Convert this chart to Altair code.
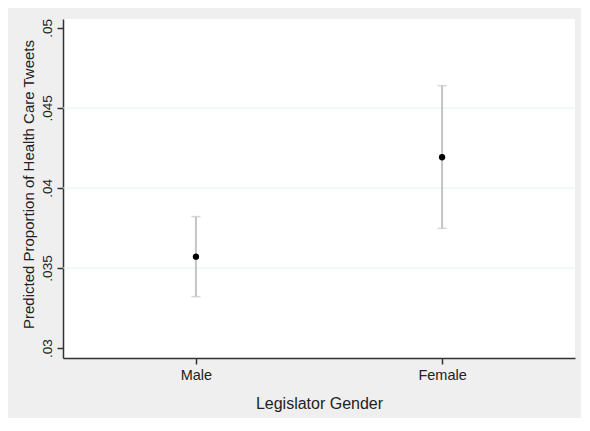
import altair as alt
import pandas as pd

genders = ["Male", "Female"]
pred = [0.03571, 0.04192]
lower = [0.03321, 0.03748]
upper = [0.03821, 0.04639]
y_ticks = [0.03, 0.035, 0.04, 0.045, 0.05]
grid_values = [0.035, 0.04, 0.045]

df = pd.DataFrame({"gender": genders, "pred": pred, "lower": lower, "upper": upper})
grid_df = pd.DataFrame({"g": grid_values})

FONT = "Liberation Sans"
TXT = "#222222"

x_scale = alt.Scale(type="point", padding=0.54, domain=genders)
x_axis = alt.Axis(
    title="Legislator Gender",
    labelAngle=0,
    labelAlign="center",
    labelBaseline="top",
    labelFontSize=14.5,
    labelPadding=4,
    labelColor=TXT,
    tickSize=6,
    tickColor="#333333",
    tickWidth=1.5,
    domainColor="#333333",
    domainWidth=1.5,
    titleFontSize=16,
    titleFontWeight="normal",
    titleColor=TXT,
    titleBaseline="alphabetic",
    titleY=50,
    grid=False,
)

y_scale = alt.Scale(domain=[0.029375, 0.05056], nice=False, zero=False)
y_axis = alt.Axis(
    title="Predicted Proportion of Health Care Tweets",
    values=y_ticks,
    labelExpr="replace(format(datum.value, '.3~f'), /^0/, '')",
    labelAngle=270,
    labelAlign="center",
    labelBaseline="alphabetic",
    labelFontSize=13.5,
    labelPadding=6,
    labelColor=TXT,
    tickSize=6,
    tickColor="#333333",
    tickWidth=1.5,
    domainColor="#333333",
    domainWidth=1.5,
    titleFontSize=15,
    titleFontWeight="normal",
    titleColor=TXT,
    titleAngle=270,
    titleAlign="center",
    titleBaseline="alphabetic",
    titleX=-30,
    titleY=165,
    grid=False,
)

x_enc = alt.X("gender:N", sort=genders, scale=x_scale, axis=x_axis)

grid = alt.Chart(grid_df).mark_rule(color="#E6F0F1", strokeWidth=1).encode(
    y=alt.Y("g:Q", scale=y_scale, axis=y_axis)
)

bars = alt.Chart(df).mark_rule(color="#C4C4C4", strokeWidth=2).encode(
    x=x_enc,
    y=alt.Y("lower:Q", scale=y_scale, axis=y_axis),
    y2="upper:Q",
)

caps_lo = alt.Chart(df).mark_tick(color="#C4C4C4", thickness=1.5, size=9).encode(
    x=x_enc,
    y=alt.Y("lower:Q", scale=y_scale, axis=y_axis),
)
caps_hi = alt.Chart(df).mark_tick(color="#C4C4C4", thickness=1.5, size=9).encode(
    x=x_enc,
    y=alt.Y("upper:Q", scale=y_scale, axis=y_axis),
)

points = alt.Chart(df).mark_point(filled=True, color="#000000", size=40, opacity=1).encode(
    x=x_enc,
    y=alt.Y("pred:Q", scale=y_scale, axis=y_axis),
)

chart = (
    alt.layer(grid, bars, caps_lo, caps_hi, points)
    .properties(
        width=512,
        height=339,
        autosize=alt.AutoSizeParams(type="none"),
        padding={"left": 55, "top": 11, "right": 6, "bottom": 60},
        background="#EFEFEF",
    )
    .configure(font=FONT)
    .configure_view(fill="white", stroke=None)
)

chart.save("out.html", embed_options={"renderer": "svg", "actions": False})
